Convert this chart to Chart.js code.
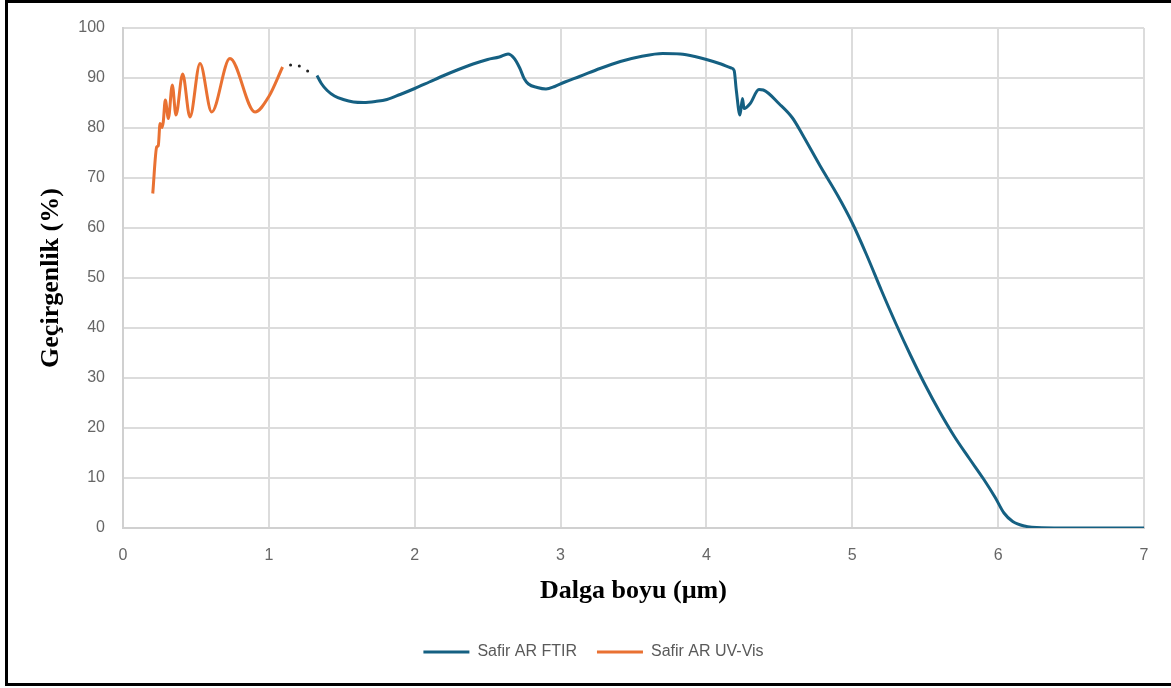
<!DOCTYPE html>
<html>
<head>
<meta charset="utf-8">
<script src="https://cdn.jsdelivr.net/npm/chart.js@4.4.1/dist/chart.umd.min.js"></script>
<style>
  html, body { margin: 0; padding: 0; background: #fff; overflow: hidden; }
  #wrap { position: relative; width: 1171px; height: 688px; }
  #frame { position: absolute; left: 5px; top: 0; width: 1180px; height: 686px; box-sizing: border-box; border: 3px solid #000; pointer-events: none; }
  canvas { position: absolute; left: 0; top: 0; }
</style>
</head>
<body>
<div id="wrap">
  <canvas id="chart" width="1171" height="688"></canvas>
  <div id="frame"></div>
</div>
<script>
// Safir AR UV-Vis (orange)
const uvX = [0.204, 0.231, 0.242, 0.254, 0.267, 0.276, 0.290, 0.311, 0.338, 0.363, 0.409, 0.459, 0.528, 0.608, 0.733, 0.905, 1.0, 1.094];
const uvY = [66.9, 76.2, 76.5, 80.9, 80.1, 81.2, 85.6, 81.9, 88.6, 82.6, 90.8, 82.2, 92.9, 83.2, 93.9, 83.2, 86.3, 92.2];

// gap between the two measurements (dotted)
const gapX = [1.149, 1.209, 1.266];
const gapY = [92.6, 92.4, 91.4];

// Safir AR FTIR (blue)
const irX = [1.33, 1.36, 1.40, 1.45, 1.51, 1.58, 1.65, 1.73, 1.81, 1.90, 2.00, 2.10, 2.20, 2.30, 2.40, 2.50, 2.58, 2.64, 2.68, 2.72, 2.75, 2.78, 2.84, 2.90, 2.96, 3.03, 3.13, 3.27, 3.41, 3.55, 3.70, 3.82, 3.92, 4.00, 4.10, 4.17, 4.19, 4.205, 4.23, 4.247, 4.258, 4.30, 4.36, 4.39, 4.50, 4.59, 4.66, 4.78, 4.90, 5.00, 5.10, 5.20, 5.30, 5.40, 5.50, 5.60, 5.70, 5.80, 5.90, 5.98, 6.04, 6.10, 6.18, 6.30, 6.50, 7.00];
const irY = [90.5, 88.9, 87.5, 86.4, 85.7, 85.2, 85.1, 85.3, 85.7, 86.7, 87.9, 89.2, 90.5, 91.7, 92.8, 93.7, 94.2, 94.8, 94.0, 92.0, 89.9, 88.8, 88.1, 87.8, 88.3, 89.2, 90.3, 91.9, 93.3, 94.3, 94.9, 94.8, 94.3, 93.7, 92.8, 92.0, 91.5, 87.5, 82.6, 85.9, 83.9, 84.9, 87.7, 87.6, 84.8, 82.0, 78.6, 72.4, 66.5, 61.0, 54.5, 47.5, 40.8, 34.5, 28.6, 23.2, 18.3, 14.0, 9.8, 6.1, 3.0, 1.3, 0.4, 0.05, 0, 0];

const seriesNames = ['Safir AR FTIR', 'Safir AR UV-Vis'];
const xTitle = 'Dalga boyu (\u00b5m)';
const yTitle = 'Ge\u00e7irgenlik (%)';

const toPoints = (xs, ys) => xs.map((x, i) => ({ x: x, y: ys[i] }));

const tickFont = { family: '"Liberation Sans", Arial, sans-serif', size: 16 };
const titleFont = { family: '"Liberation Serif", "Times New Roman", serif', size: 26, weight: 'bold' };

new Chart(document.getElementById('chart'), {
  type: 'line',
  data: {
    datasets: [
      {
        label: seriesNames[0],
        data: toPoints(irX, irY),
        borderColor: '#156082',
        backgroundColor: '#156082',
        borderWidth: 3,
        pointRadius: 0,
        cubicInterpolationMode: 'monotone'
      },
      {
        label: seriesNames[1],
        data: toPoints(uvX, uvY),
        borderColor: '#E97132',
        backgroundColor: '#E97132',
        borderWidth: 3,
        pointRadius: 0,
        cubicInterpolationMode: 'monotone'
      },
      {
        label: 'gap',
        data: toPoints(gapX, gapY),
        showLine: false,
        pointRadius: 1.5,
        pointBorderWidth: 0,
        pointBackgroundColor: '#222',
        borderColor: '#222'
      }
    ]
  },
  options: {
    responsive: false,
    devicePixelRatio: 1,
    animation: false,
    layout: { padding: { left: 43, right: 27, top: 28, bottom: 18 } },
    scales: {
      x: {
        type: 'linear',
        min: 0,
        max: 7,
        ticks: { stepSize: 1, color: '#666', font: tickFont, padding: 18 },
        grid: { color: '#dcdcdc', lineWidth: 2, drawTicks: false },
        border: { color: '#d0d0d0', width: 2 },
        title: { display: true, text: xTitle, color: '#000', font: titleFont, padding: { top: 0, bottom: 17 } },
        afterFit: (scale) => { scale.height = 96; }
      },
      y: {
        min: 0,
        max: 100,
        ticks: { stepSize: 10, color: '#666', font: tickFont, padding: 18 },
        grid: { color: '#dcdcdc', lineWidth: 2, drawTicks: false },
        border: { color: '#d0d0d0', width: 2 },
        title: { display: true, text: yTitle, color: '#000', font: titleFont, padding: { top: -7, bottom: 0 } },
        afterFit: (scale) => { scale.width = 80; }
      }
    },
    plugins: {
      legend: {
        position: 'bottom',
        labels: {
          color: '#595959',
          font: tickFont,
          usePointStyle: true,
          pointStyle: 'line',
          pointStyleWidth: 46,
          padding: 20,
          filter: (item) => item.datasetIndex < 2
        }
      },
      tooltip: { enabled: false }
    }
  }
});
</script>
</body>
</html>
